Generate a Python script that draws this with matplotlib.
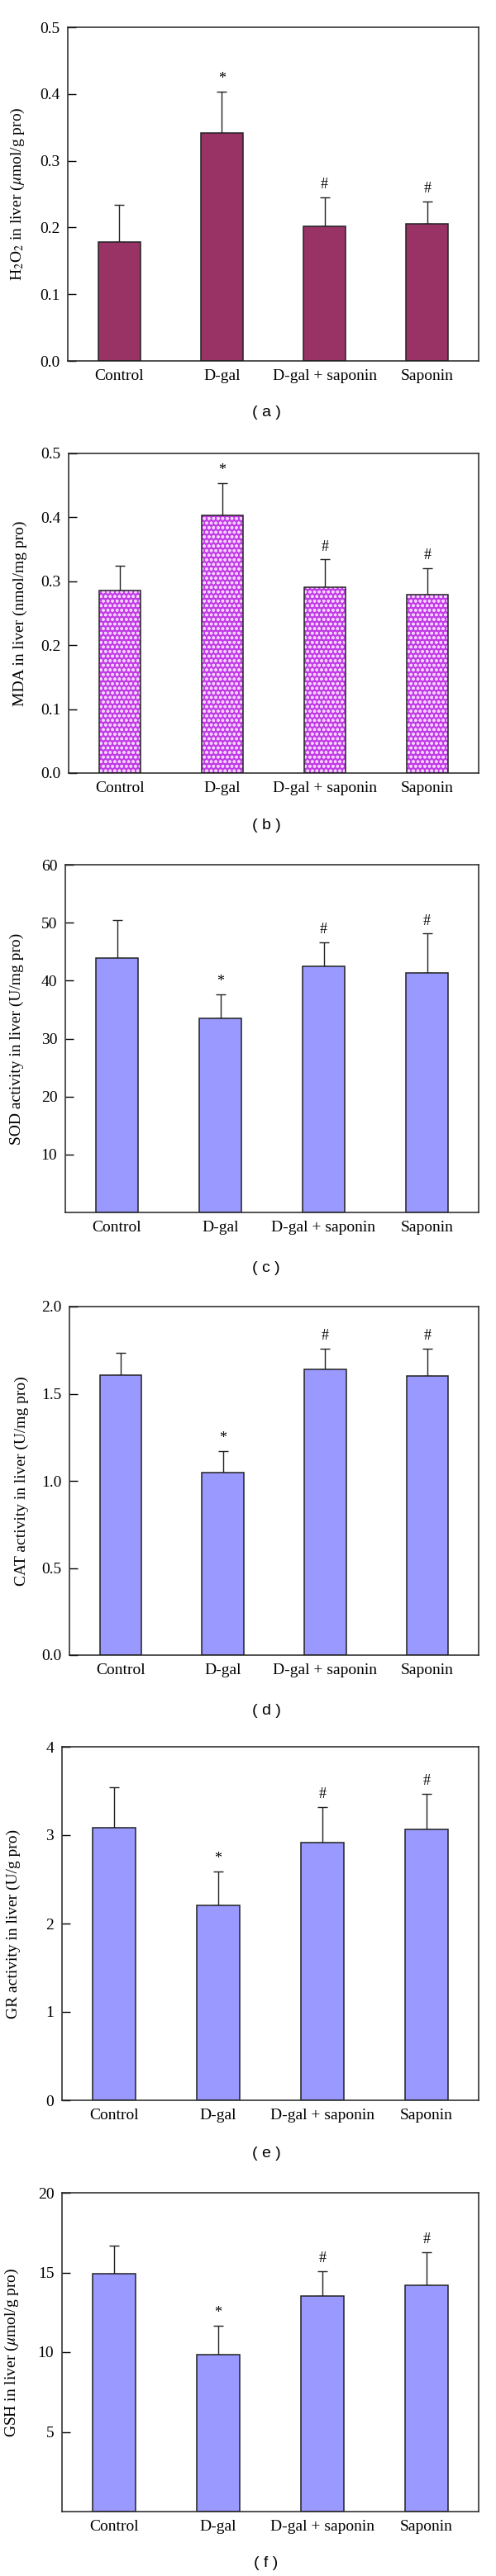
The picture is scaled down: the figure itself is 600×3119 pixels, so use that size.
import matplotlib
matplotlib.use("Agg")
import matplotlib.pyplot as plt
import numpy as np

plt.rcParams["font.family"] = ["Liberation Serif", "DejaVu Serif"]
plt.rcParams["mathtext.fontset"] = "stix"
plt.rcParams["hatch.linewidth"] = 1.0

groups = ["Control", "D-gal", "D-gal + saponin", "Saponin"]
marks = ["", "*", "#", "#"]

h2o2_mean = [0.178, 0.342, 0.202, 0.205]
h2o2_sd = [0.056, 0.062, 0.043, 0.034]
mda_mean = [0.286, 0.403, 0.291, 0.279]
mda_sd = [0.038, 0.050, 0.043, 0.042]
sod_mean = [43.9, 33.5, 42.5, 41.4]
sod_sd = [6.6, 4.1, 4.1, 6.7]
cat_mean = [1.605, 1.048, 1.639, 1.601]
cat_sd = [0.130, 0.122, 0.119, 0.157]
gr_mean = [3.088, 2.21, 2.92, 3.066]
gr_sd = [0.454, 0.38, 0.40, 0.402]
gsh_mean = [14.94, 9.86, 13.52, 14.21]
gsh_sd = [1.76, 1.78, 1.57, 2.06]

W, H = 600, 3119

# each panel: means, sds, ylabel, ylim, yticks, tick format, colour, hatch,
# axes box in pixels (left, top, right, bottom), caption y, caption
panels = [
    (h2o2_mean, h2o2_sd, r"H$_2$O$_2$ in liver ($\mu$mol/g pro)", 0.5,
     [0, 0.1, 0.2, 0.3, 0.4, 0.5], "{:.1f}", "#993366", None,
     (82, 33, 579, 437), 500, "( a )"),
    (mda_mean, mda_sd, "MDA in liver (nmol/mg pro)", 0.5,
     [0, 0.1, 0.2, 0.3, 0.4, 0.5], "{:.1f}", "#c23ce6", "ooo",
     (83, 549, 579, 936), 1000, "( b )"),
    (sod_mean, sod_sd, "SOD activity in liver (U/mg pro)", 60,
     [10, 20, 30, 40, 50, 60], "{:.0f}", "#9999ff", None,
     (79, 1047, 579, 1468), 1535, "( c )"),
    (cat_mean, cat_sd, "CAT activity in liver (U/mg pro)", 2.0,
     [0, 0.5, 1.0, 1.5, 2.0], "{:.1f}", "#9999ff", None,
     (84, 1582, 579, 2004), 2072, "( d )"),
    (gr_mean, gr_sd, "GR activity in liver (U/g pro)", 4,
     [0, 1, 2, 3, 4], "{:.0f}", "#9999ff", None,
     (75, 2115, 579, 2543), 2607, "( e )"),
    (gsh_mean, gsh_sd, r"GSH in liver ($\mu$mol/g pro)", 20,
     [5, 10, 15, 20], "{:.0f}", "#9999ff", None,
     (75, 2655, 579, 3041), 3103, "( f )"),
]

fig = plt.figure(figsize=(W / 100, H / 100), dpi=100)

for mean, sd, ylabel, ymax, yticks, fmt, color, hatch, box, cap_y, caption in panels:
    l, t, r, b = box
    ax = fig.add_axes([l / W, 1 - b / H, (r - l) / W, (b - t) / H])
    x = np.arange(len(groups))
    if hatch:
        ax.bar(x, mean, 0.41, color=color, edgecolor="#f4d0ff", hatch=hatch,
               linewidth=0, zorder=2)
        ax.bar(x, mean, 0.41, fill=False, edgecolor="#222222", linewidth=1.1, zorder=3)
    else:
        ax.bar(x, mean, 0.41, color=color, edgecolor="#222222", linewidth=1.1, zorder=2)
    ax.errorbar(x, mean, yerr=[np.zeros(len(sd)), sd], fmt="none", ecolor="#222222",
                elinewidth=1.0, capsize=4.3, capthick=1.0, zorder=1)
    for xi, m, s, mk in zip(x, mean, sd, marks):
        if mk:
            ax.annotate(mk, (xi, m + s), xytext=(0, 5), textcoords="offset points",
                        ha="center", va="bottom", fontsize=13)
    ax.set_xlim(-0.5, 3.5)
    ax.set_ylim(0, ymax)
    ax.set_xticks(x)
    ax.set_xticklabels(groups, fontsize=14)
    ax.set_yticks(yticks)
    ax.set_yticklabels([fmt.format(v) for v in yticks], fontsize=14)
    ax.tick_params(axis="x", length=0, pad=7)
    ax.tick_params(axis="y", direction="in", length=7, width=1.0, pad=7)
    for sp in ax.spines.values():
        sp.set_linewidth(1.1)
        sp.set_color("#222222")
    ax.set_ylabel(ylabel, fontsize=14)
    ax.yaxis.set_label_coords(-0.10, 0.5)
    fig.text(322 / W, 1 - cap_y / H, caption, ha="center", va="center",
             fontsize=14, family=["Liberation Sans", "DejaVu Sans"])

fig.savefig("out.png", dpi=100)
